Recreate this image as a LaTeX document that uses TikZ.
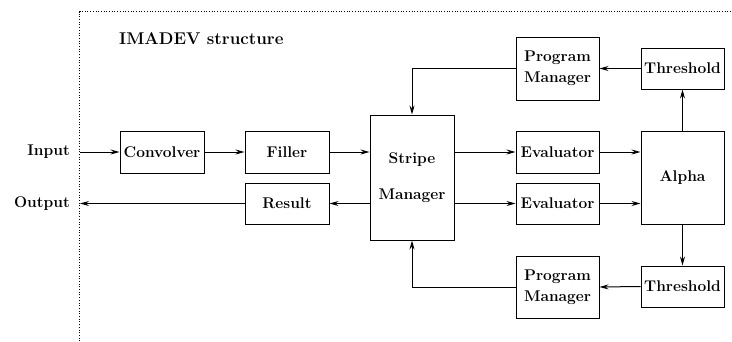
\documentclass[tikz,border=0pt]{standalone}
\usetikzlibrary{arrows.meta}
\begin{document}
\begin{tikzpicture}[x=1pt,y=-1pt,
  every node/.style={font=\fontsize{15.5}{21}\selectfont\bfseries, inner sep=0pt},
  blk/.style={draw, line width=1pt, align=center},
  conn/.style={line width=1pt, -{Stealth[length=9pt,width=5pt,inset=3pt]}},
  frameline/.style={line width=0.7pt, dotted}]
\useasboundingbox (0,0) rectangle (732,341);
\draw[frameline] (79.5,341) -- (79.5,11.5) -- (732,11.5);
\node[anchor=west, font=\fontsize{17}{21}\selectfont\bfseries] (title) at (119,39) {IMADEV structure};
\node[blk, minimum width=84pt, minimum height=42pt] (conv) at (162,152) {Convolver};
\node[blk, minimum width=84pt, minimum height=42pt] (fill) at (287,152) {Filler};
\node[blk, minimum width=84pt, minimum height=41pt] (res) at (287,203.5) {Result};
\node[blk, minimum width=84pt, minimum height=125pt] (stripe) at (412,177.5) {Stripe\\[15pt]Manager};
\node[blk, minimum width=83pt, minimum height=42pt] (ev1) at (557.5,152) {Evaluator};
\node[blk, minimum width=83pt, minimum height=41pt] (ev2) at (557.5,203.5) {Evaluator};
\node[blk, minimum width=83pt, minimum height=93pt] (alpha) at (682.5,177.5) {Alpha};
\node[blk, minimum width=83pt, minimum height=63pt] (pm1) at (557.5,68.5) {Program\\Manager};
\node[blk, minimum width=83pt, minimum height=41pt] (th1) at (682.5,68.5) {Threshold};
\node[blk, minimum width=83pt, minimum height=41pt] (th2) at (682.5,286.5) {Threshold};
\node[blk, minimum width=83pt, minimum height=62pt] (pm2) at (557.5,287) {Program\\Manager};
\node[anchor=east] (inlbl) at (70,152) {Input};
\node[anchor=east] (outlbl) at (70,203.5) {Output};
\coordinate (inpt) at (80,152);
\coordinate (outpt) at (80,203.5);
\draw[conn] (inpt) -- (conv.west);
\draw[conn] (conv.east) -- (fill.west);
\draw[conn] (fill.east) -- (fill.east -| stripe.west);
\draw[conn] (res.east -| stripe.west) -- (res.east);
\draw[conn] (res.west) -- (outpt);
\draw[conn] (ev1.west -| stripe.east) -- (ev1.west);
\draw[conn] (ev2.west -| stripe.east) -- (ev2.west);
\draw[conn] (ev1.east) -- (ev1.east -| alpha.west);
\draw[conn] (ev2.east) -- (ev2.east -| alpha.west);
\draw[conn] (alpha.north) -- (th1.south);
\draw[conn] (alpha.south) -- (th2.north);
\draw[conn] (th1.west) -- (pm1.east);
\draw[conn] (th2.west) -- (pm2.east);
\draw[conn] (pm1.west) -| (stripe.north);
\draw[conn] (pm2.west) -| (stripe.south);
\end{tikzpicture}
\end{document}
